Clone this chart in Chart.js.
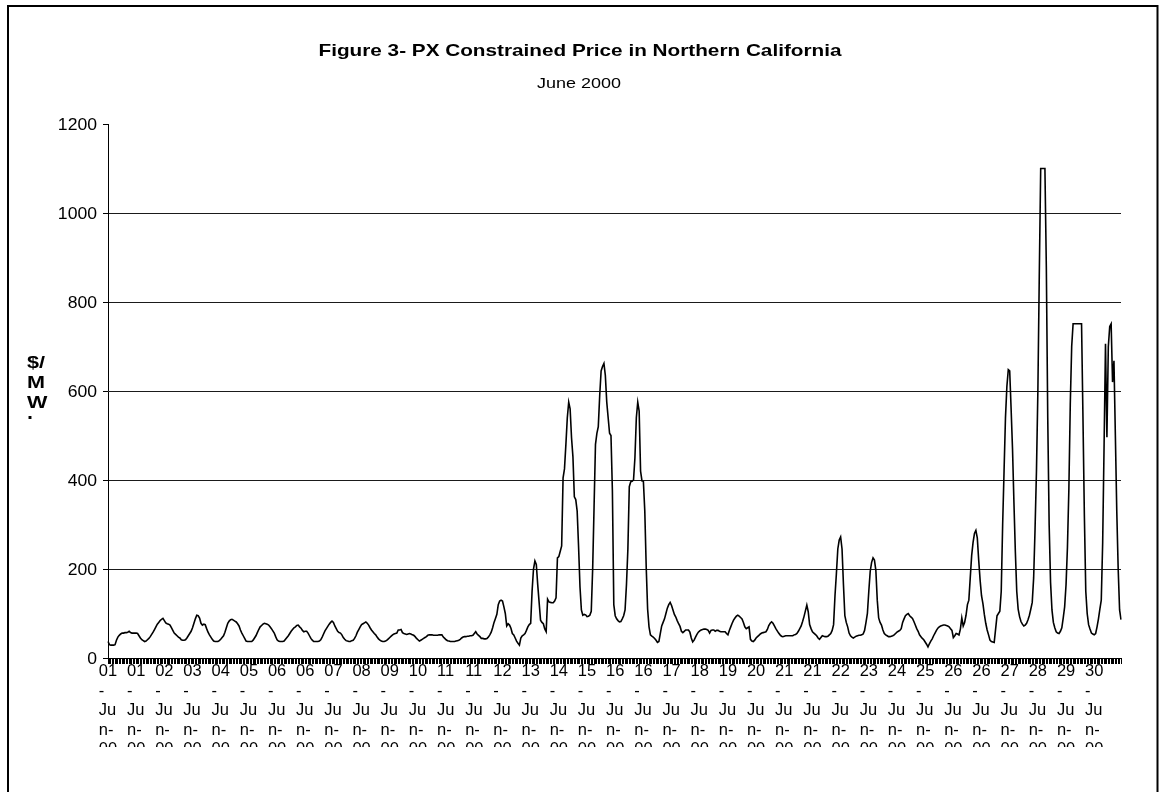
<!DOCTYPE html>
<html>
<head>
<meta charset="utf-8">
<script src="https://cdn.jsdelivr.net/npm/chart.js@4.4.1/dist/chart.umd.min.js"></script>
<style>
  html, body { margin: 0; padding: 0; background: #fff; }
  canvas { display: block; }
</style>
</head>
<body>
<canvas id="c" width="1161" height="792"></canvas>
<script>
// ---------------- data ----------------
const titleText = 'Figure 3- PX Constrained Price in Northern California';
const subtitleText = 'June 2000';
const yAxisTitleLines = ['$/', 'M', 'W', 'h'];
const dayNumbers = ['01','02','03','04','05','06','07','08','09','10','11','12','13','14','15',
                    '16','17','18','19','20','21','22','23','24','25','26','27','28','29','30'];
const monthText = '-Jun-00';
const hoursPerDay = 24;
const labelEvery = 20;            // one date label every 20 hourly categories
const yTickValues = [0, 200, 400, 600, 800, 1000, 1200];

// hourly PX constrained price, $/MWh (hour 0..23 of each day)
const day01 = [37,30,29,29,29,30,40,47,51,54,56,56,57,57,58,60,57,56,56,56,56,55,50,45];
const day02 = [41,39,37,38,41,44,48,53,58,64,70,76,80,84,87,89,84,79,77,76,74,68,62,56];
const day03 = [53,50,47,45,41,40,40,41,45,50,55,60,68,78,88,96,95,90,78,74,76,75,66,58];
const day04 = [52,47,42,38,37,37,37,39,42,46,50,58,68,78,83,86,87,85,83,81,77,72,63,56];
const day05 = [50,44,38,37,37,37,37,40,45,50,57,64,70,73,76,78,77,76,74,70,66,61,56,48];
const day06 = [41,38,37,37,37,38,42,46,50,55,60,64,68,70,73,74,70,67,62,59,60,60,56,50];
const day07 = [44,40,37,37,37,37,38,41,47,54,61,66,71,76,80,83,80,72,66,60,57,56,52,46];
const day08 = [42,39,38,37,37,39,40,44,50,58,64,70,75,77,79,81,78,74,68,63,59,55,52,47];
const day09 = [43,40,38,37,37,38,40,43,46,49,52,54,55,56,63,63,64,57,55,54,53,54,55,54];
const day10 = [52,51,48,44,41,38,40,42,44,46,48,51,52,52,52,51,51,51,51,52,52,52,47,44];
const day11 = [41,39,38,37,37,37,37,38,39,40,42,45,47,48,48,49,49,50,50,51,55,59,54,51];
const day12 = [48,44,44,43,43,44,47,52,58,68,80,89,98,120,128,130,128,115,100,72,77,74,67,55];
const day13 = [52,45,38,33,29,45,50,52,55,62,70,75,78,150,200,218,210,165,125,85,80,77,65,59];
const day14 = [132,126,125,124,124,128,135,225,228,240,252,405,425,480,540,575,560,495,452,362,356,330,250,160];
const day15 = [108,96,98,97,93,94,96,105,200,340,480,505,520,590,645,655,662,635,575,540,505,500,377,120];
const day16 = [95,88,84,81,82,88,95,108,165,245,385,396,397,400,450,540,575,555,420,398,397,330,205,110];
const day17 = [70,52,49,47,44,40,35,37,55,72,80,88,100,112,120,125,118,108,98,92,84,77,71,60];
const day18 = [57,60,63,63,63,58,45,36,40,47,53,58,61,63,64,65,65,64,62,56,62,63,63,60];
const day19 = [62,62,60,59,59,59,59,55,52,62,70,78,85,90,94,96,94,91,88,80,70,66,68,70];
const day20 = [42,38,37,40,45,48,51,54,56,57,58,59,64,73,78,81,78,72,66,61,56,52,49,48];
const day21 = [49,50,50,50,50,50,50,52,53,55,60,66,72,82,93,106,119,104,75,66,59,56,53,50];
const day22 = [45,42,46,50,49,48,48,49,52,55,62,75,140,190,245,265,272,245,165,95,80,70,56,50];
const day23 = [47,45,47,49,50,51,51,52,54,62,80,100,150,195,215,225,220,197,130,90,80,74,63,55];
const day24 = [52,50,48,48,49,50,52,55,58,60,62,66,80,88,95,98,100,95,92,89,82,74,66,60];
const day25 = [52,48,44,41,36,31,25,32,38,43,50,56,62,67,70,72,73,74,74,73,72,70,66,62];
const day26 = [46,50,55,54,52,65,90,72,80,96,120,130,180,230,260,280,287,270,220,175,140,122,98,78];
const day27 = [63,52,40,37,36,35,65,95,100,105,150,300,420,540,610,648,645,560,470,350,240,150,110,93];
const day28 = [82,76,72,74,78,86,96,110,125,180,290,420,600,860,1100,1100,1100,1100,880,541,300,170,108,80];
const day29 = [68,59,56,55,60,68,90,115,165,250,380,570,700,751,751,751,751,751,751,751,541,320,150,100];
const day30 = [75,65,56,54,52,55,70,88,110,130,260,480,706,496,700,745,751,620,668,500,330,200,108,86];

const dayValues = [day01,day02,day03,day04,day05,day06,day07,day08,day09,day10,
                   day11,day12,day13,day14,day15,day16,day17,day18,day19,day20,
                   day21,day22,day23,day24,day25,day26,day27,day28,day29,day30];

// categories: one per hour, labelled with its date
const categories = [];
dayNumbers.forEach(d => { for (let h = 0; h < hoursPerDay; h++) categories.push(d + monthText); });
const priceSeries = [].concat(...dayValues);

// Excel-style wrap of "01-Jun-00" in a narrow label box
function wrapLabel(s) {
  return [s.slice(0, 2), s.slice(2, 3), s.slice(3, 5), s.slice(5, 7), s.slice(7)];
}

// ---------------- text helpers ----------------
const FAMILY = '"Liberation Sans", Arial, Helvetica, sans-serif';
function drawStretched(ctx, text, x, y, font, sx, align) {
  ctx.save();
  ctx.font = font;
  ctx.textBaseline = 'alphabetic';
  ctx.textAlign = 'left';
  const w = ctx.measureText(text).width * sx;
  const left = align === 'center' ? x - w / 2 : (align === 'right' ? x - w : x);
  ctx.translate(left, y);
  ctx.scale(sx, 1);
  ctx.fillStyle = '#000';
  ctx.fillText(text, 0, 0);
  ctx.restore();
  return w;
}
function drawFitted(ctx, text, cx, y, font, width) {
  ctx.save();
  ctx.font = font;
  const sx = width / ctx.measureText(text).width;
  ctx.restore();
  drawStretched(ctx, text, cx, y, font, sx, 'center');
}

const excelText = {
  id: 'excelText',
  beforeDraw(chart) {
    const c = chart.ctx;
    c.save();
    c.fillStyle = '#fff';
    c.fillRect(0, 0, chart.width, chart.height);
    c.restore();
  },
  afterDraw(chart) {
    const ctx = chart.ctx;
    const xs = chart.scales.x, ys = chart.scales.y;

    // outer chart frame
    ctx.save();
    ctx.strokeStyle = '#000';
    ctx.lineWidth = 2;
    ctx.beginPath();
    ctx.moveTo(8, 800); ctx.lineTo(8, 6); ctx.lineTo(1157.5, 6); ctx.lineTo(1157.5, 800);
    ctx.stroke();
    ctx.restore();

    // title + subtitle
    drawFitted(ctx, titleText, 580, 56, 'bold 17px ' + FAMILY, 523);
    drawFitted(ctx, subtitleText, 579, 88, '15px ' + FAMILY, 84);

    // y tick labels
    ys.ticks.forEach(t => {
      const y = ys.getPixelForValue(t.value);
      drawStretched(ctx, String(t.value), 97, y + 6, '16px ' + FAMILY, 1.1, 'right');
    });

    // y axis title, wrapped and clipped like the original
    ctx.save();
    ctx.beginPath();
    ctx.rect(0, 340, 100, 419 - 340);
    ctx.clip();
    yAxisTitleLines.forEach((ln, k) => {
      drawStretched(ctx, ln, 27, 368 + 20 * k, 'bold 16px ' + FAMILY, 1.35, 'left');
    });
    ctx.restore();

    // x date labels every 20 hours, wrapped, clipped at the bottom
    ctx.save();
    ctx.beginPath();
    ctx.rect(0, 662, chart.width, 747 - 662);
    ctx.clip();
    const font = '16px ' + FAMILY;
    const sx = 1.03;
    ctx.font = font;
    for (let i = 0; i < categories.length; i += labelEvery) {
      const x = xs.getPixelForValue(i);
      const lines = wrapLabel(categories[i]);
      const blockW = Math.max(...lines.map(l => ctx.measureText(l).width)) * sx;
      const left = x - blockW / 2;
      lines.forEach((ln, k) => drawStretched(ctx, ln, left, 676 + 19.5 * k, font, sx, 'left'));
    }
    ctx.restore();
  }
};

// ---------------- chart ----------------
new Chart(document.getElementById('c'), {
  type: 'line',
  data: {
    labels: categories,
    datasets: [{
      data: priceSeries,
      borderColor: '#000',
      borderWidth: 1.6,
      pointRadius: 0,
      pointHoverRadius: 0,
      tension: 0,
      fill: false
    }]
  },
  options: {
    responsive: false,
    devicePixelRatio: 1,
    animation: false,
    events: [],
    layout: { padding: { top: 124, left: 108, right: 40, bottom: 134 } },
    plugins: { legend: { display: false }, tooltip: { enabled: false }, title: { display: false } },
    scales: {
      x: {
        type: 'category',
        offset: false,
        afterFit(s) { s.height = 0; },
        ticks: { display: false, autoSkip: false },
        grid: { display: true, drawOnChartArea: false, drawTicks: true, tickLength: 6, tickColor: '#000', tickWidth: 1 },
        border: { display: true, color: '#000', width: 1 }
      },
      y: {
        min: 0,
        max: 1200,
        afterFit(s) { s.width = 0; },
        afterBuildTicks(s) { s.ticks = yTickValues.map(v => ({ value: v })); },
        ticks: { display: false },
        grid: {
          color: c => (c.tick && (c.tick.value === 0 || c.tick.value === 1200)) ? 'rgba(0,0,0,0)' : '#1a1a1a',
          lineWidth: 1,
          drawTicks: true,
          tickLength: 5,
          tickColor: '#000'
        },
        border: { display: true, color: '#000', width: 1 }
      }
    }
  },
  plugins: [excelText]
});
</script>
</body>
</html>
